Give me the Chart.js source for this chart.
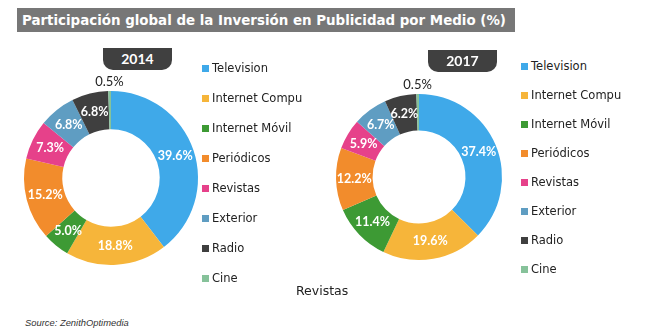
<!DOCTYPE html>
<html>
<head>
<meta charset="utf-8">
<script src="https://cdn.jsdelivr.net/npm/chart.js@4.4.1/dist/chart.umd.min.js"></script>
<style>
  body { margin: 0; width: 653px; height: 336px; background: #fff; position: relative; overflow: hidden; font-family: "DejaVu Sans", sans-serif; }
  .title { position: absolute; left: 17px; top: 8px; width: 498px; height: 24px; background: #777; color: #fff;
    font-family: "DejaVu Sans Condensed", "DejaVu Sans"; font-stretch: condensed; font-weight: bold; font-size: 14.9px;
    line-height: 24px; padding-left: 5px; box-sizing: border-box; white-space: nowrap; }
  .tab { position: absolute; width: 69px; height: 22px; background: #404040; color: #fff; border-radius: 0 0 10px 10px;
    text-align: center; font: bold 14px Lato; line-height: 22px; }
  canvas { position: absolute; }
  .legend div { position: absolute; white-space: nowrap; font-size: 11.5px; color: #222; line-height: 14px; }
  .legend span { position: absolute; left: 0; top: 4px; width: 7px; height: 7px; }
  .legend b { position: absolute; left: 10px; top: 0; font-weight: normal; }
  .note { position: absolute; left: 296px; top: 283px; font-size: 12.5px; color: #222; }
  .source { position: absolute; left: 25px; top: 317px; font: italic 9.4px "Liberation Sans"; color: #333; }
</style>
</head>
<body>
<div class="title">Participación global de la Inversión en Publicidad por Medio (%)</div>
<canvas id="chart2014" width="214" height="214" style="left:4px;top:71px"></canvas>
<canvas id="chart2017" width="206" height="206" style="left:316px;top:74px"></canvas>
<div class="tab" style="left:103px;top:48px">2014</div>
<div class="tab" style="left:428px;top:50px">2017</div>
<div class="legend" id="legend2014"></div>
<div class="legend" id="legend2017"></div>
<div class="note">Revistas</div>
<div class="source">Source: ZenithOptimedia</div>

<script>
const categories = ['Television', 'Internet Compu', 'Internet Móvil', 'Periódicos', 'Revistas', 'Exterior', 'Radio', 'Cine'];
const share2014 = [39.6, 18.8, 5.0, 15.2, 7.3, 6.8, 6.8, 0.5];
const share2017 = [37.4, 19.6, 11.4, 12.2, 5.9, 6.7, 6.2, 0.5];
const colors = ['#3fa9e9', '#f6b53a', '#3d9a34', '#f28c2c', '#e6418a', '#5f9dc2', '#3f3f3f', '#86c29a'];

// percent text on each slice, tiny slices go outside the ring
const sliceLabels = {
  id: 'sliceLabels',
  afterDatasetsDraw(chart) {
    const ctx = chart.ctx;
    const values = chart.data.datasets[0].data;
    ctx.save();
    ctx.textAlign = 'center';
    ctx.textBaseline = 'middle';
    chart.getDatasetMeta(0).data.forEach((arc, i) => {
      const text = values[i].toFixed(1) + '%';
      if (values[i] < 2) {
        const p = arc.getProps(['x', 'y', 'startAngle', 'endAngle', 'outerRadius'], true);
        const a = (p.startAngle + p.endAngle) / 2;
        const r = p.outerRadius + 9;
        ctx.fillStyle = '#222';
        ctx.font = '13px Lato';
        ctx.fillText(text, p.x + r * Math.cos(a), p.y + r * Math.sin(a));
      } else {
        const pos = arc.tooltipPosition(true);
        ctx.fillStyle = '#fff';
        ctx.font = 'bold 12.5px Lato';
        ctx.fillText(text, pos.x, pos.y);
      }
    });
    ctx.restore();
  }
};

function makeDoughnut(id, values) {
  return new Chart(document.getElementById(id), {
    type: 'doughnut',
    data: {
      labels: categories,
      datasets: [{
        data: values,
        backgroundColor: colors,
        borderWidth: 0
      }]
    },
    options: {
      responsive: false,
      animation: false,
      cutout: '56%',
      layout: { padding: 20 },
      plugins: {
        legend: { display: false },
        tooltip: { enabled: false }
      }
    },
    plugins: [sliceLabels]
  });
};

function makeLegend(id, left, top, step) {
  const box = document.getElementById(id);
  categories.forEach((name, i) => {
    const item = document.createElement('div');
    item.style.left = left + 'px';
    item.style.top = (top + i * step - 7) + 'px';
    item.innerHTML = `<span style="background:${colors[i]}"></span><b>${name}</b>`;
    box.appendChild(item);
  });
};

makeDoughnut('chart2014', share2014);
makeDoughnut('chart2017', share2017);
makeLegend('legend2014', 202, 68, 30);
makeLegend('legend2017', 521, 66, 29);
</script>
</body>
</html>
